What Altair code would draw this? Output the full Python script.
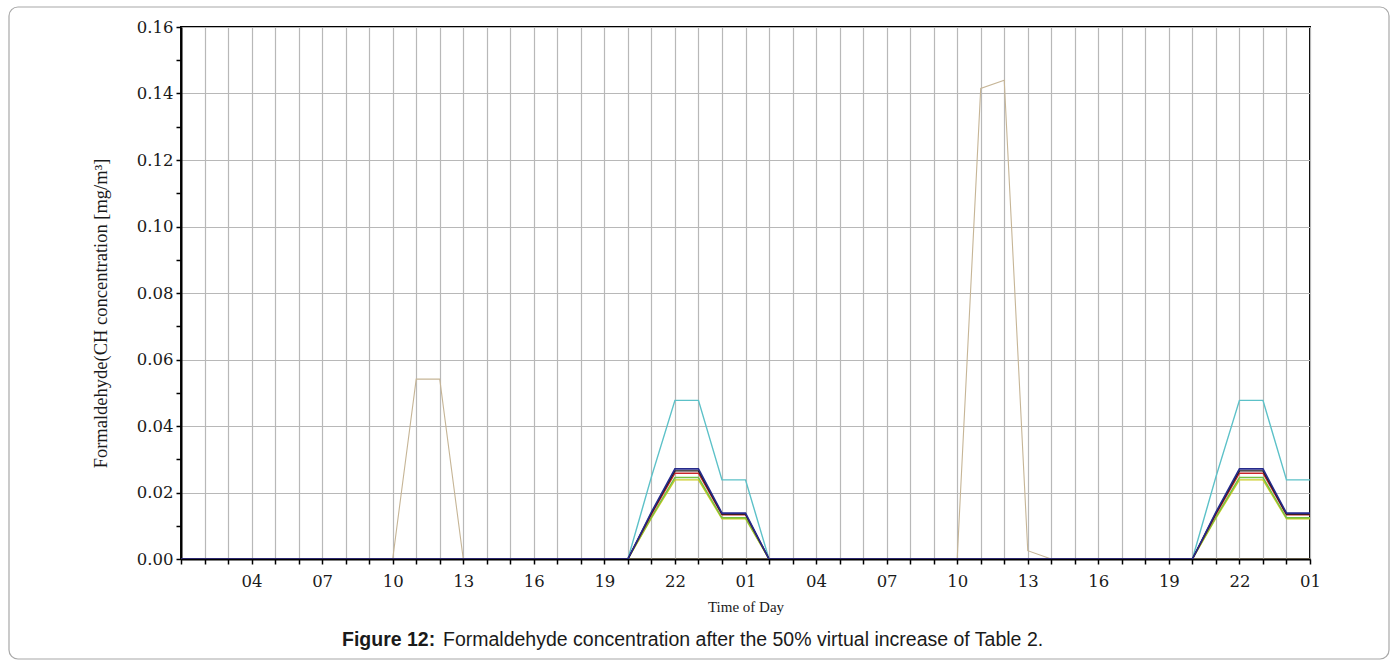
import altair as alt
import pandas as pd

# Time axis: hours elapsed since 01:00 on the first day (0 .. 48 -> 01:00 two days later)
tan_hours = [0, 9, 10, 11, 12, 33, 34, 35, 36, 37, 48]
tan_vals = [0, 0, 0.0541, 0.0541, 0, 0, 0.1415, 0.1440, 0.0025, 0, 0]

night_hours = [0, 19, 20, 21, 22, 23, 24, 25, 43, 44, 45, 46, 47, 48]
cyan_vals = [0, 0, 0.0247, 0.0477, 0.0477, 0.0238, 0.0238, 0, 0, 0.0247, 0.0477, 0.0477, 0.0238, 0.0238]
yellow_vals = [0, 0, 0.0123, 0.0238, 0.0238, 0.0121, 0.0121, 0, 0, 0.0123, 0.0238, 0.0238, 0.0121, 0.0121]
green_vals = [0, 0, 0.0126, 0.0245, 0.0245, 0.0124, 0.0124, 0, 0, 0.0126, 0.0245, 0.0245, 0.0124, 0.0124]
red_vals = [0, 0, 0.0134, 0.0258, 0.0258, 0.0133, 0.0133, 0, 0, 0.0134, 0.0258, 0.0258, 0.0133, 0.0133]
black_vals = [0, 0, 0.0138, 0.0265, 0.0265, 0.0135, 0.0135, 0, 0, 0.0138, 0.0265, 0.0265, 0.0135, 0.0135]
navy_vals = [0, 0, 0.0141, 0.0271, 0.0271, 0.0138, 0.0138, 0, 0, 0.0141, 0.0271, 0.0271, 0.0138, 0.0138]

# drawing order: first entry at the bottom, last on top
series = [
    ("tan", tan_hours, tan_vals, "#c6b596", 1.1),
    ("cyan", night_hours, cyan_vals, "#5cc1c8", 1.4),
    ("yellow", night_hours, yellow_vals, "#cccc22", 1.4),
    ("green", night_hours, green_vals, "#74c043", 1.4),
    ("red", night_hours, red_vals, "#c8262a", 1.4),
    ("black", night_hours, black_vals, "#1a1a1a", 1.4),
    ("navy", night_hours, navy_vals, "#262a8c", 1.6),
]

x_ticks = list(range(0, 49))
y_ticks = [i / 100 for i in range(0, 17)]

W, H = 1129, 532

x_scale = alt.Scale(domain=[0, 48], nice=False, zero=False)
y_scale = alt.Scale(domain=[0, 0.16], nice=False)

hour_label = ("datum.value % 3 == 0 && datum.value > 0 ? "
              "(((datum.value + 1) % 24) < 10 ? '0' : '') + ((datum.value + 1) % 24) : ''")

x_axis = alt.Axis(
    title="Time of Day", values=x_ticks, labelExpr=hour_label, labelOverlap=False,
    labelFlush=False, grid=True, gridColor="#b8b8b8", gridWidth=1.2,
    domainColor="#000", domainWidth=2, tickColor="#000", tickSize=5, tickWidth=1.5,
    labelFont="DejaVu Serif", labelFontSize=16.5, labelColor="#1a1a1a", labelPadding=9,
    titleFont="Liberation Serif", titleFontSize=15, titleFontWeight="normal",
    titleColor="#1a1a1a", titlePadding=10,
)
y_axis = alt.Axis(
    title="Formaldehyde(CH concentration [mg/m³]", values=y_ticks,
    labelExpr="round(datum.value * 100) % 2 == 0 ? format(datum.value, '.2f') : ''",
    labelOverlap=False, labelFlush=False, grid=True, gridColor="#b8b8b8", gridWidth=1.2,
    gridOpacity={"condition": {"test": "round(datum.value * 100) % 2 == 1", "value": 0}, "value": 1},
    domainColor="#000", domainWidth=2, tickColor="#000", tickSize=5, tickWidth=1.5,
    labelFont="DejaVu Serif", labelFontSize=16.5, labelColor="#1a1a1a", labelPadding=3,
    titleFont="Liberation Serif", titleFontSize=18.5, titleFontWeight="normal",
    titleColor="#1a1a1a", titlePadding=26, titleY=286,
)

layers = []
for name, hrs, vals, color, width in series:
    df = pd.DataFrame({"hour": hrs, "value": vals, "series": name})
    layers.append(
        alt.Chart(df).mark_line(color=color, strokeWidth=width, clip=True).encode(
            x=alt.X("hour:Q", scale=x_scale, axis=x_axis),
            y=alt.Y("value:Q", scale=y_scale, axis=y_axis),
        )
    )

one = alt.Data(values=[{}])

# rounded outer frame around figure and caption
frame = alt.Chart(one).mark_rect(
    fill=None, stroke="#a8a8a8", strokeWidth=1.2, cornerRadius=9
).encode(x=alt.value(-172), x2=alt.value(1208), y=alt.value(-20), y2=alt.value(632))

caption_bold = alt.Chart(one).mark_text(
    text="Figure 12:", font="Liberation Sans", fontSize=19.5, fontWeight="bold",
    align="left", baseline="middle", color="#1a1a1a",
).encode(x=alt.value(161), y=alt.value(613))
caption_text = alt.Chart(one).mark_text(
    text="Formaldehyde concentration after the 50% virtual increase of Table 2.",
    font="Liberation Sans", fontSize=19.5, align="left", baseline="middle", color="#1a1a1a",
).encode(x=alt.value(262), y=alt.value(613))

chart = alt.layer(*layers, frame, caption_bold, caption_text).properties(
    width=W, height=H,
    background="#ffffff",
    autosize=alt.AutoSizeParams(type="none"),
    padding={"left": 181, "top": 27, "right": 1397 - 181 - W, "bottom": 666 - 27 - H},
).configure_view(stroke="#000", strokeWidth=2)

chart.save("out.html", embed_options={"renderer": "svg", "actions": False})
